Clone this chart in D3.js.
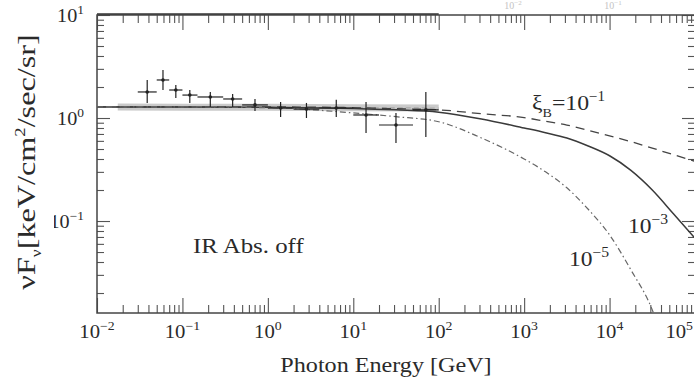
<!DOCTYPE html>
<html>
<head>
<meta charset="utf-8">
<script src="https://cdn.jsdelivr.net/npm/d3@7"></script>
<style>
  body { margin: 0; background: #fff; }
  svg { display: block; }
  text { font-family: 'Liberation Serif', 'DejaVu Serif', serif; fill: #2a2a2a; }
</style>
</head>
<body>
<svg width="694" height="381"></svg>
<script>
// EGRET-like data points: bin centre, bin edges, flux and error range
const ptE    = [0.0387, 0.0592, 0.0837, 0.122, 0.212, 0.387, 0.707, 1.41, 2.83, 6.32, 14.1, 31.6, 70.7];
const ptELo  = [0.03, 0.05, 0.07, 0.10, 0.15, 0.30, 0.50, 1, 2, 4, 10, 20, 50];
const ptEHi  = [0.05, 0.07, 0.10, 0.15, 0.30, 0.50, 1.0, 2, 4, 10, 20, 50, 100];
const ptF    = [1.79, 2.34, 1.87, 1.67, 1.60, 1.53, 1.34, 1.25, 1.22, 1.25, 1.07, 0.855, 1.20];
const ptFLo  = [1.40, 1.87, 1.56, 1.40, 1.28, 1.28, 1.17, 1.02, 1.00, 1.02, 0.715, 0.572, 0.654];
const ptFHi  = [2.34, 2.92, 2.09, 1.87, 1.79, 1.71, 1.53, 1.43, 1.40, 1.50, 1.43, 1.12, 1.79];

// grey band
const bandE = [0.0175, 0.1, 1, 10, 100];
const bandF = [1.28, 1.27, 1.27, 1.26, 1.25];

// model curves
const curveE    = [0.01, 0.1, 1, 10, 31.6, 100, 316, 1000, 1778, 3162, 5623, 1e4, 17783, 31623, 56234, 1e5];
const xi1Flux   = [1.28, 1.28, 1.28, 1.26, 1.23, 1.20, 1.10, 1.01, 0.93, 0.855, 0.76, 0.67, 0.59, 0.51, 0.44, 0.38];
const xi3Flux   = [1.28, 1.28, 1.27, 1.24, 1.20, 1.14, 0.98, 0.80, 0.72, 0.64, 0.535, 0.43, 0.31, 0.20, 0.117, 0.068];
const xi5Flux   = [1.28, 1.28, 1.26, 1.12, 1.03, 0.92, 0.64, 0.40, 0.30, 0.21, 0.13, 0.0733, 0.0335, 0.0137, 0.003, 0.0005];

const xTickExp = [-2, -1, 0, 1, 2, 3, 4, 5];
const yTickExp = [-1, 0, 1];

const svg = d3.select('svg');
const margin = { left: 97, right: 695, top: 15, bottom: 313 };

const x = d3.scaleLog().domain([0.01, 1e5]).range([margin.left, margin.right]);
const y = d3.scaleLog().domain([Math.pow(10, -1.893), 10]).range([margin.bottom, margin.top]);

const xMajor = xTickExp.map(e => Math.pow(10, e));
const xMinor = [];
for (let e = -2; e < 5; e++) for (let m = 2; m < 10; m++) xMinor.push(m * Math.pow(10, e));
const yMajor = yTickExp.map(e => Math.pow(10, e));
const yMinor = [];
for (let e = -2; e < 1; e++) for (let m = 2; m < 10; m++) {
  const v = m * Math.pow(10, e);
  if (v >= y.domain()[0]) yMinor.push(v);
}

svg.append('defs').append('clipPath').attr('id', 'plot')
  .append('rect')
    .attr('x', margin.left).attr('y', margin.top)
    .attr('width', margin.right - margin.left)
    .attr('height', margin.bottom - margin.top);

// ticks, all pointing inward
const tickColor = '#555';
const addAxis = (axis, tx, ty) => {
  const g = svg.append('g').attr('transform', `translate(${tx},${ty})`).call(axis);
  g.select('.domain').remove();
  g.selectAll('line').attr('stroke', tickColor).attr('stroke-width', 1.1);
  return g;
};
addAxis(d3.axisBottom(x).tickValues(xMajor).tickSize(-15).tickFormat(''), 0, margin.bottom);
addAxis(d3.axisBottom(x).tickValues(xMinor).tickSize(-8).tickFormat(''), 0, margin.bottom);
addAxis(d3.axisTop(x).tickValues(xMajor).tickSize(-15).tickFormat(''), 0, margin.top);
addAxis(d3.axisTop(x).tickValues(xMinor).tickSize(-8).tickFormat(''), 0, margin.top);
addAxis(d3.axisLeft(y).tickValues(yMajor).tickSize(-13).tickFormat(''), margin.left, 0);
addAxis(d3.axisLeft(y).tickValues(yMinor).tickSize(-7).tickFormat(''), margin.left, 0);
addAxis(d3.axisRight(y).tickValues(yMajor).tickSize(-13).tickFormat(''), margin.right, 0);
addAxis(d3.axisRight(y).tickValues(yMinor).tickSize(-7).tickFormat(''), margin.right, 0);

// frame
svg.append('rect')
  .attr('x', margin.left).attr('y', margin.top)
  .attr('width', margin.right - margin.left)
  .attr('height', margin.bottom - margin.top)
  .attr('fill', 'none').attr('stroke', '#444').attr('stroke-width', 1.5);
// edge of the panel above
svg.append('line')
  .attr('x1', margin.left).attr('x2', x(100)).attr('y1', 14).attr('y2', 14)
  .attr('stroke', '#333').attr('stroke-width', 1.5);

// wide-set serif text: a text element placed by translate + horizontal stretch
const wideText = (px, py, fs, sx, anchor) => svg.append('text')
  .attr('transform', `translate(${px},${py}) scale(${sx},1)`)
  .attr('text-anchor', anchor || 'start')
  .style('font-size', fs + 'px');

const supLabel = (sel, base, exp, fs, sfs) => {
  sel.append('tspan').text(base);
  sel.append('tspan').attr('dy', -fs * 0.42).style('font-size', sfs + 'px').text(exp);
};

// faint labels of the panel above
[[513, '−2'], [613, '−1']].forEach(([px, s]) => {
  const t = wideText(px, 9, 10, 1, 'middle').style('fill', '#c4c4c4');
  supLabel(t, '10', s, 10, 7);
});

// x tick labels (the last one kept inside the page)
xTickExp.forEach(e => {
  const last = e === xTickExp[xTickExp.length - 1];
  const t = last
    ? wideText(693, 338, 18, 1.15, 'end')
    : wideText(x(Math.pow(10, e)), 338, 18, 1.15, 'middle');
  supLabel(t, '10', e < 0 ? '−' + (-e) : String(e), 18, 12);
});

// y tick labels
yTickExp.forEach(e => {
  const t = wideText(84, y(Math.pow(10, e)) + 7, 18, 1.12, 'end');
  supLabel(t, '10', e < 0 ? '−' + (-e) : String(e), 18, 12);
});

// y axis title (its white box hides part of the 10^-1 label)
svg.append('rect').attr('x', 0).attr('y', 0).attr('width', 54).attr('height', 330).attr('fill', '#fff');
const yl = svg.append('text')
  .attr('transform', 'translate(35,162) rotate(-90) scale(1.24,1)')
  .attr('text-anchor', 'middle')
  .style('font-size', '26px');
yl.append('tspan').text('νF');
yl.append('tspan').attr('dy', 6).style('font-size', '14px').text('ν');
yl.append('tspan').attr('dy', -6).text('[keV/cm');
yl.append('tspan').attr('dy', -10).style('font-size', '15px').text('2');
yl.append('tspan').attr('dy', 10).text('/sec/sr]');

// x axis title
wideText(386, 372, 21, 1.15, 'middle').text('Photon Energy [GeV]');

const plot = svg.append('g').attr('clip-path', 'url(#plot)');

// grey band
const bandLine = d3.line().x((d, i) => x(bandE[i])).y(d => y(d));
plot.append('path').datum(bandF)
  .attr('d', bandLine)
  .attr('fill', 'none').attr('stroke', '#cacaca').attr('stroke-width', 7);
plot.append('path').datum(bandF)
  .attr('d', bandLine)
  .attr('fill', 'none').attr('stroke', '#a8a8a8').attr('stroke-width', 1.2)
  .attr('stroke-dasharray', '5,3');

// model curves
const curveLine = d3.line().curve(d3.curveMonotoneX)
  .x((d, i) => x(curveE[i])).y(d => y(d));
plot.append('path').datum(xi1Flux).attr('d', curveLine)
  .attr('fill', 'none').attr('stroke', '#444').attr('stroke-width', 1.3)
  .attr('stroke-dasharray', '9,6');
plot.append('path').datum(xi3Flux).attr('d', curveLine)
  .attr('fill', 'none').attr('stroke', '#3a3a3a').attr('stroke-width', 1.5);
plot.append('path').datum(xi5Flux).attr('d', curveLine)
  .attr('fill', 'none').attr('stroke', '#666').attr('stroke-width', 1.2)
  .attr('stroke-dasharray', '6,3,1.5,3');

// data points with error bars
const pts = plot.selectAll('g.pt').data(ptE).enter().append('g').attr('class', 'pt');
pts.append('line')
  .attr('x1', (d, i) => x(ptELo[i])).attr('x2', (d, i) => x(ptEHi[i]))
  .attr('y1', (d, i) => y(ptF[i])).attr('y2', (d, i) => y(ptF[i]))
  .attr('stroke', '#222').attr('stroke-width', 1.2);
pts.append('line')
  .attr('x1', d => x(d)).attr('x2', d => x(d))
  .attr('y1', (d, i) => y(ptFLo[i])).attr('y2', (d, i) => y(ptFHi[i]))
  .attr('stroke', '#222').attr('stroke-width', 1.2);
pts.append('circle')
  .attr('cx', d => x(d)).attr('cy', (d, i) => y(ptF[i])).attr('r', 1.8)
  .attr('fill', '#222');

// annotations
wideText(193, 253, 22, 1.13).text('IR Abs. off');

const xiT = wideText(532, 110, 22, 1.08);
xiT.append('tspan').text('ξ');
xiT.append('tspan').attr('dy', 7).style('font-size', '13px').text('B');
xiT.append('tspan').attr('dy', -7).text('=10');
xiT.append('tspan').attr('dy', -9).style('font-size', '14px').text('−1');

const l3 = wideText(628, 233, 21, 1.12);
supLabel(l3, '10', '−3', 21, 14);
const l5 = wideText(569, 266, 21, 1.12);
supLabel(l5, '10', '−5', 21, 14);
</script>
</body>
</html>
